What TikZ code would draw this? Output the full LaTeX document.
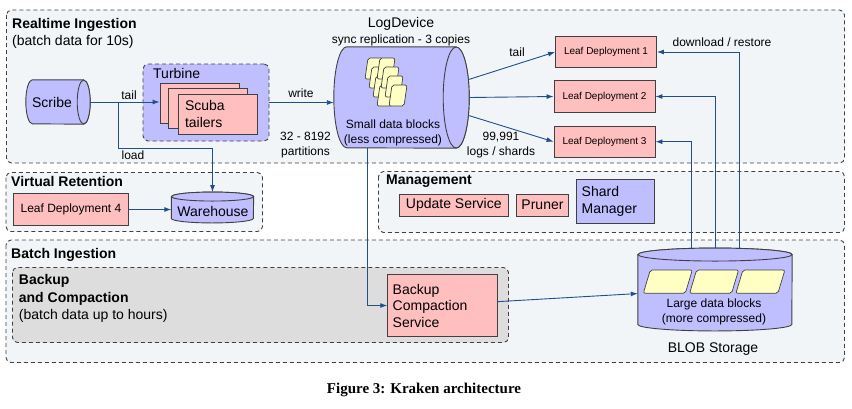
\documentclass[tikz,border=0pt]{standalone}
\usepackage{fontspec}
\setmainfont{Liberation Serif}
\setsansfont{Liberation Sans}
\usetikzlibrary{arrows.meta,calc,positioning}

\definecolor{lavender}{RGB}{191,191,255}
\definecolor{rosebox}{RGB}{255,191,191}
\definecolor{blockfill}{RGB}{255,255,196}
\definecolor{panelfill}{RGB}{242,245,247}
\definecolor{grayfill}{RGB}{221,221,221}
\definecolor{wire}{RGB}{31,79,140}
\definecolor{rim}{RGB}{64,64,64}

\newcommand{\fbig}{\fontsize{14}{16.5}\selectfont}
\newcommand{\fmid}{\fontsize{12}{15.5}\selectfont}
\newcommand{\fsmall}{\fontsize{10}{12}\selectfont}

\tikzset{
  panel/.style={draw=rim, line width=0.9pt, dash pattern=on 4pt off 3pt, rounded corners=5pt, fill=panelfill},
  title/.style={anchor=west, inner sep=0pt, font=\sffamily\bfseries\fbig},
  note/.style={inner sep=0pt, font=\sffamily\fmid},
  plain/.style={anchor=west, inner sep=0pt, font=\sffamily\fbig},
  leaf/.style={draw=rim, line width=0.9pt, fill=rosebox, inner sep=0pt, font=\sffamily\fsmall, minimum width=101pt, minimum height=31.5pt},
  service/.style={draw=rim, line width=0.9pt, fill=rosebox, inner sep=0pt, font=\sffamily\fbig},
  hub/.style={inner sep=0pt, draw=none},
  tank/.style={draw=rim, line width=0.9pt, fill=lavender},
  block/.style={draw=rim, line width=0.7pt, fill=blockfill, rounded corners=2pt},
  flow/.style={draw=wire, line width=0.9pt, -{Latex[length=7pt,width=5pt]}},
}

\begin{document}
\begin{tikzpicture}[x=1pt,y=-1pt]
  \useasboundingbox (0,0) rectangle (852,408);

  % panels
  \draw[panel] (6.5,10) rectangle (844.5,163);
  \draw[panel] (6,172.5) rectangle (262.5,231.5);
  \draw[panel] (378.5,171.5) rectangle (844.5,232.5);
  \draw[panel] (6,240) rectangle (844.5,362.5);
  \draw[panel, fill=grayfill] (12.5,267.5) rectangle (508.5,342.5);

  % realtime ingestion
  \node[title] (rtTitle) at (12,24.5) {Realtime Ingestion};
  \node[plain] (rtNote) at (12,42) {(batch data for 10s)};

  \node[hub, minimum width=64pt, minimum height=44pt] (scribe) at (58,102) {};
  \draw[tank] ($(scribe.north east)+(-6.5,0)$) -- ($(scribe.north west)+(6.5,0)$) arc (270:90:6.5 and 22)
    -- ($(scribe.south east)+(-6.5,0)$) arc (90:-90:6.5 and 22) -- cycle;
  \draw[tank] ($(scribe.east)+(-6.5,0)$) ellipse (6.5 and 22);
  \node[note, font=\sffamily\fbig] (scribeLbl) at (52,102) {Scribe};

  \node[panel, fill=lavender, minimum width=126pt, minimum height=77pt, inner sep=0pt] (turbine) at (206,102.5) {};
  \node[plain] (turbineLbl) at (153,73) {Turbine};
  \node[service, minimum width=79pt, minimum height=40pt] (scubaA) at (199.5,103) {};
  \node[service, minimum width=79pt, minimum height=40pt] (scubaB) at (208,108) {};
  \node[service, minimum height=40pt, text width=65pt, inner xsep=7pt, align=left] (scubaC) at (217.5,114) {Scuba\\tailers};

  \node[hub, minimum width=135pt, minimum height=101pt] (logdev) at (401.5,97.5) {};
  \draw[tank] ($(logdev.north east)+(-13,0)$) -- ($(logdev.north west)+(13,0)$) arc (270:90:13 and 50.5)
    -- ($(logdev.south east)+(-13,0)$) arc (90:-90:13 and 50.5) -- cycle;
  \draw[tank] ($(logdev.east)+(-13,0)$) ellipse (13 and 50.5);
  \node[note, font=\sffamily\fbig] (logdevName) at (401,24) {LogDevice};
  \node[note] (logdevRepl) at (401,40) {sync replication - 3 copies};
  \foreach \c in {0,1}
    \foreach \r in {0,...,3}
      \draw[block] ({365+12*\c+4*\r+3},{58+9*\r}) -- ++(15,0) -- ++(-3,21) -- ++(-15,0) -- cycle;
  \node[note, align=center] (logdevText) at (393,133) {Small data blocks\\(less compressed)};

  \node[leaf] (ld1) at (606,52) {Leaf Deployment 1};
  \node[leaf] (ld2) at (604.5,96.5) {Leaf Deployment 2};
  \node[leaf] (ld3) at (604.5,141.7) {Leaf Deployment 3};

  % virtual retention
  \node[title] (vrTitle) at (11,181) {Virtual Retention};
  \node[service, font=\sffamily\fmid, minimum width=115.7pt, minimum height=32.4pt] (ld4) at (71,209.5) {Leaf Deployment 4};
  \node[hub, minimum width=82pt, minimum height=30.5pt] (warehouse) at (212.5,207.5) {};
  \draw[tank] ($(warehouse.north west)+(0,4.5)$) -- ($(warehouse.south west)+(0,-4.5)$) arc (180:0:41 and 4.5)
    -- ($(warehouse.north east)+(0,4.5)$) arc (0:-180:41 and 4.5) -- cycle;
  \draw[tank] ($(warehouse.north)+(0,4.5)$) ellipse (41 and 4.5);
  \node[note, font=\sffamily\fbig] (warehouseLbl) at (213,211) {Warehouse};

  % management
  \node[title] (mgTitle) at (386,181) {Management};
  \node[service, minimum width=109pt, minimum height=21.7pt] (update) at (453.8,205.2) {Update Service};
  \node[service, minimum width=51.6pt, minimum height=21.7pt] (pruner) at (542.5,205.2) {Pruner};
  \node[service, fill=lavender, minimum height=44.3pt, text width=66.6pt, inner xsep=5.7pt, align=left] (shard) at (615,201.2) {Shard\\Manager};

  % batch ingestion
  \node[title] (biTitle) at (11,255) {Batch Ingestion};
  \node[anchor=north west, inner sep=0pt, align=left, font=\sffamily\fontsize{14}{17.5}\selectfont] (bcTitle) at (18.7,274.5) {\textbf{Backup}\\\textbf{and Compaction}\\(batch data up to hours)};
  \node[service, minimum height=62.4pt, text width=99.6pt, inner xsep=5pt, align=left] (bcs) at (442.5,305.5) {Backup\\Compaction\\Service};

  \node[hub, minimum width=154pt, minimum height=82.5pt] (blob) at (715,289.5) {};
  \draw[tank] ($(blob.north west)+(0,6.5)$) -- ($(blob.south west)+(0,-6.5)$) arc (180:0:77 and 6.5)
    -- ($(blob.north east)+(0,6.5)$) arc (0:-180:77 and 6.5) -- cycle;
  \draw[tank] ($(blob.north)+(0,6.5)$) ellipse (77 and 6.5);
  \foreach \i in {0,1,2}
    \draw[block] ({643.3+46.3*\i},293.3) -- ++(7,-23.3) -- ++(42,0) -- ++(-7,23.3) -- cycle;
  \node[note, align=center] (blobText) at (714,311.7) {Large data blocks\\(more compressed)};
  \node[note, font=\sffamily\fbig] (blobName) at (713,349.3) {BLOB Storage};

  % connectors
  \coordinate (split) at (118,102);
  \coordinate (loadBend) at (118,148);
  \draw[flow] (scribe.east) -- (scribe.east -| scubaA.west);
  \node[note] (tailLbl) at (129,95) {tail};
  \draw[flow, -] (split) -- (loadBend);
  \draw[flow] (loadBend) -| (warehouse.north);
  \node[note] (loadLbl) at (133,155) {load};

  \draw[flow] (turbine.east) -- (logdev.west |- turbine.east);
  \node[note] (writeLbl) at (301,93) {write};
  \node[note, align=center] (partLbl) at (305.5,145) {32 - 8192\\partitions};

  \draw[flow] (logdev.15) -- (ld1.west);
  \draw[flow] (logdev.east) -- (ld2.west);
  \draw[flow] (logdev.-15) -- (ld3.west);
  \node[note] (tail2Lbl) at (517,52) {tail};
  \node[note, align=center] (shardLbl) at (501,145) {99,991\\logs / shards};

  \draw[flow] ($(blob.north)+(24,0)$) |- (ld1.east);
  \draw[flow] (blob.north) |- (ld2.east);
  \draw[flow] ($(blob.north)+(-24,0)$) |- (ld3.east);
  \node[note] (dlLbl) at (722,42) {download / restore};

  \draw[flow] (ld4.east) -- (warehouse.west |- ld4.east);
  \draw[flow] ($(logdev.south)+(-34.5,0)$) |- (bcs.west);
  \draw[flow] (bcs.4) -- (blob.183);

  \node[inner sep=0pt, font=\rmfamily\bfseries\fontsize{15}{18}\selectfont] (caption) at (424,390) {Figure 3: Kraken architecture};
\end{tikzpicture}
\end{document}
